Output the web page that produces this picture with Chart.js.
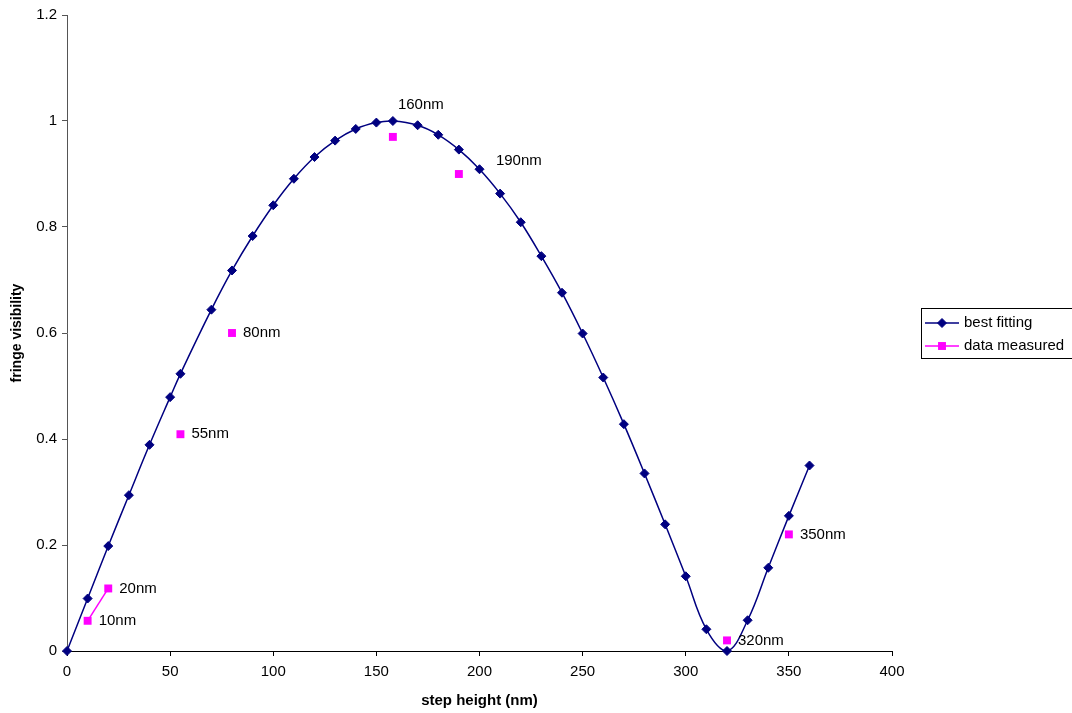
<!DOCTYPE html>
<html>
<head>
<meta charset="utf-8">
<title>fringe visibility vs step height</title>
<script src="https://cdn.jsdelivr.net/npm/chart.js@4/dist/chart.umd.min.js"></script>
<style>
  html, body { margin: 0; padding: 0; background: #fff; }
  #wrap { width: 1072px; height: 713px; position: relative; }
</style>
</head>
<body>
<div id="wrap"><canvas id="chart"></canvas></div>
<script>
// best fitting curve (step height in nm, fringe visibility)
const fitX = [0, 10, 20, 30, 40, 50, 55, 70, 80, 90, 100, 110, 120, 130, 140, 150, 158,
  170, 180, 190, 200, 210, 220, 230, 240, 250, 260, 270, 280, 290, 300, 310, 320, 330, 340, 350, 360];
const fitY = [0, 0.099, 0.198, 0.294, 0.389, 0.479, 0.523, 0.644, 0.718, 0.783, 0.841, 0.891, 0.932,
  0.963, 0.985, 0.997, 1.0, 0.992, 0.974, 0.946, 0.909, 0.863, 0.809, 0.745, 0.676, 0.599, 0.516,
  0.428, 0.335, 0.239, 0.141, 0.041, 0.0, 0.058, 0.157, 0.255, 0.350];

// measured points
const measuredX = [10, 20, 55, 80, 158, 190, 320, 350];
const measuredY = [0.057, 0.118, 0.409, 0.6, 0.97, 0.9, 0.02, 0.22];
const measuredLabels = ["10nm", "20nm", "55nm", "80nm", "160nm", "190nm", "320nm", "350nm"];

const xTicks = [0, 50, 100, 150, 200, 250, 300, 350, 400];
const yTicks = [0, 0.2, 0.4, 0.6, 0.8, 1, 1.2];

const NAVY = "#000080";
const MAGENTA = "#FF00FF";
const FONT = "'Liberation Sans', Arial, sans-serif";

const toPoints = (xs, ys) => xs.map((x, i) => ({ x, y: ys[i] }));

// label nudges (px) for the two labels Excel moved off the default spot
const labelNudge = { 4: [-6, -32], 5: [26, -13] };

const pointLabels = {
  id: "pointLabels",
  afterDatasetsDraw(chart) {
    const meta = chart.getDatasetMeta(1);
    const ctx = chart.ctx;
    ctx.save();
    ctx.font = `15px ${FONT}`;
    ctx.fillStyle = "#000";
    ctx.textAlign = "left";
    ctx.textBaseline = "middle";
    meta.data.forEach((pt, i) => {
      const [dx, dy] = labelNudge[i] || [0, 0];
      ctx.fillText(measuredLabels[i], pt.x + 11 + dx, pt.y + dy);
    });
    ctx.restore();
  },
};

// Excel-style boxed legend, line + marker sample
const boxLegend = {
  id: "boxLegend",
  afterDraw(chart) {
    const ctx = chart.ctx;
    const left = chart.chartArea.right + 29;
    const top = 308;
    ctx.save();
    ctx.strokeStyle = "#000";
    ctx.lineWidth = 1;
    ctx.strokeRect(left + 0.5, top + 0.5, 170, 50);
    ctx.font = `15px ${FONT}`;
    ctx.textBaseline = "middle";
    chart.data.datasets.forEach((ds, i) => {
      const y = top + 15 + i * 23;
      ctx.strokeStyle = ds.borderColor;
      ctx.lineWidth = 1.5;
      ctx.beginPath();
      ctx.moveTo(left + 4, y);
      ctx.lineTo(left + 38, y);
      ctx.stroke();
      ctx.fillStyle = ds.pointBackgroundColor;
      ctx.strokeStyle = ds.pointBackgroundColor;
      ctx.lineWidth = 1;
      Chart.helpers.drawPoint(ctx, {
        pointStyle: ds.pointStyle,
        radius: ds.pointRadius,
        borderWidth: ds.pointBorderWidth,
      }, left + 21, y);
      ctx.fillStyle = "#000";
      ctx.fillText(ds.label, left + 43, y);
    });
    ctx.restore();
  },
};

new Chart(document.getElementById("chart"), {
  type: "scatter",
  data: {
    datasets: [
      {
        label: "best fitting",
        data: toPoints(fitX, fitY),
        showLine: true,
        borderColor: NAVY,
        backgroundColor: NAVY,
        borderWidth: 1.5,
        tension: 0.4,
        pointStyle: "rectRot",
        pointRadius: 4.5,
        pointBorderWidth: 1,
        pointBorderColor: NAVY,
        pointBackgroundColor: NAVY,
        clip: false,
      },
      {
        label: "data measured",
        data: toPoints(measuredX, measuredY),
        showLine: true,
        borderColor: MAGENTA,
        backgroundColor: MAGENTA,
        borderWidth: 1.5,
        tension: 0,
        // only the first pair was joined in the source sheet
        segment: {
          borderColor: (c) => (c.p0DataIndex === 0 ? MAGENTA : "transparent"),
        },
        pointStyle: "rect",
        pointRadius: 5.6,
        pointBorderWidth: 0,
        pointBackgroundColor: MAGENTA,
        clip: false,
      },
    ],
  },
  plugins: [pointLabels, boxLegend],
  options: {
    responsive: true,
    maintainAspectRatio: false,
    animation: false,
    layout: { padding: { left: 0, top: 15, right: 180, bottom: 0 } },
    plugins: {
      legend: { display: false },
      tooltip: { enabled: false },
    },
    scales: {
      x: {
        type: "linear",
        min: xTicks[0],
        max: xTicks[xTicks.length - 1],
        afterBuildTicks: (scale) => { scale.ticks = xTicks.map((v) => ({ value: v })); },
        afterFit: (scale) => { scale.height = 62; },
        grid: { drawOnChartArea: false, drawTicks: true, tickLength: 5, color: "#000" },
        border: { color: "#000", width: 1 },
        ticks: {
          color: "#000",
          padding: 7,
          maxRotation: 0,
          font: { family: FONT, size: 15 },
          callback: (v) => `${v}`,
        },
        title: {
          display: true,
          text: "step height (nm)",
          color: "#000",
          font: { family: FONT, size: 15, weight: "bold" },
          padding: { top: 0, bottom: 3 },
        },
      },
      y: {
        type: "linear",
        min: yTicks[0],
        max: yTicks[yTicks.length - 1],
        afterBuildTicks: (scale) => { scale.ticks = yTicks.map((v) => ({ value: v })); },
        afterFit: (scale) => { scale.width = 67; },
        grid: { drawOnChartArea: false, drawTicks: true, tickLength: 5, color: "#555" },
        border: { color: "#555", width: 1 },
        ticks: {
          color: "#000",
          padding: 5,
          font: { family: FONT, size: 15 },
          callback: (v) => `${v}`,
        },
        title: {
          display: true,
          text: "fringe visibility",
          color: "#000",
          font: { family: FONT, size: 14, weight: "bold" },
          padding: { top: 9, bottom: 0 },
        },
      },
    },
  },
});
</script>
</body>
</html>
